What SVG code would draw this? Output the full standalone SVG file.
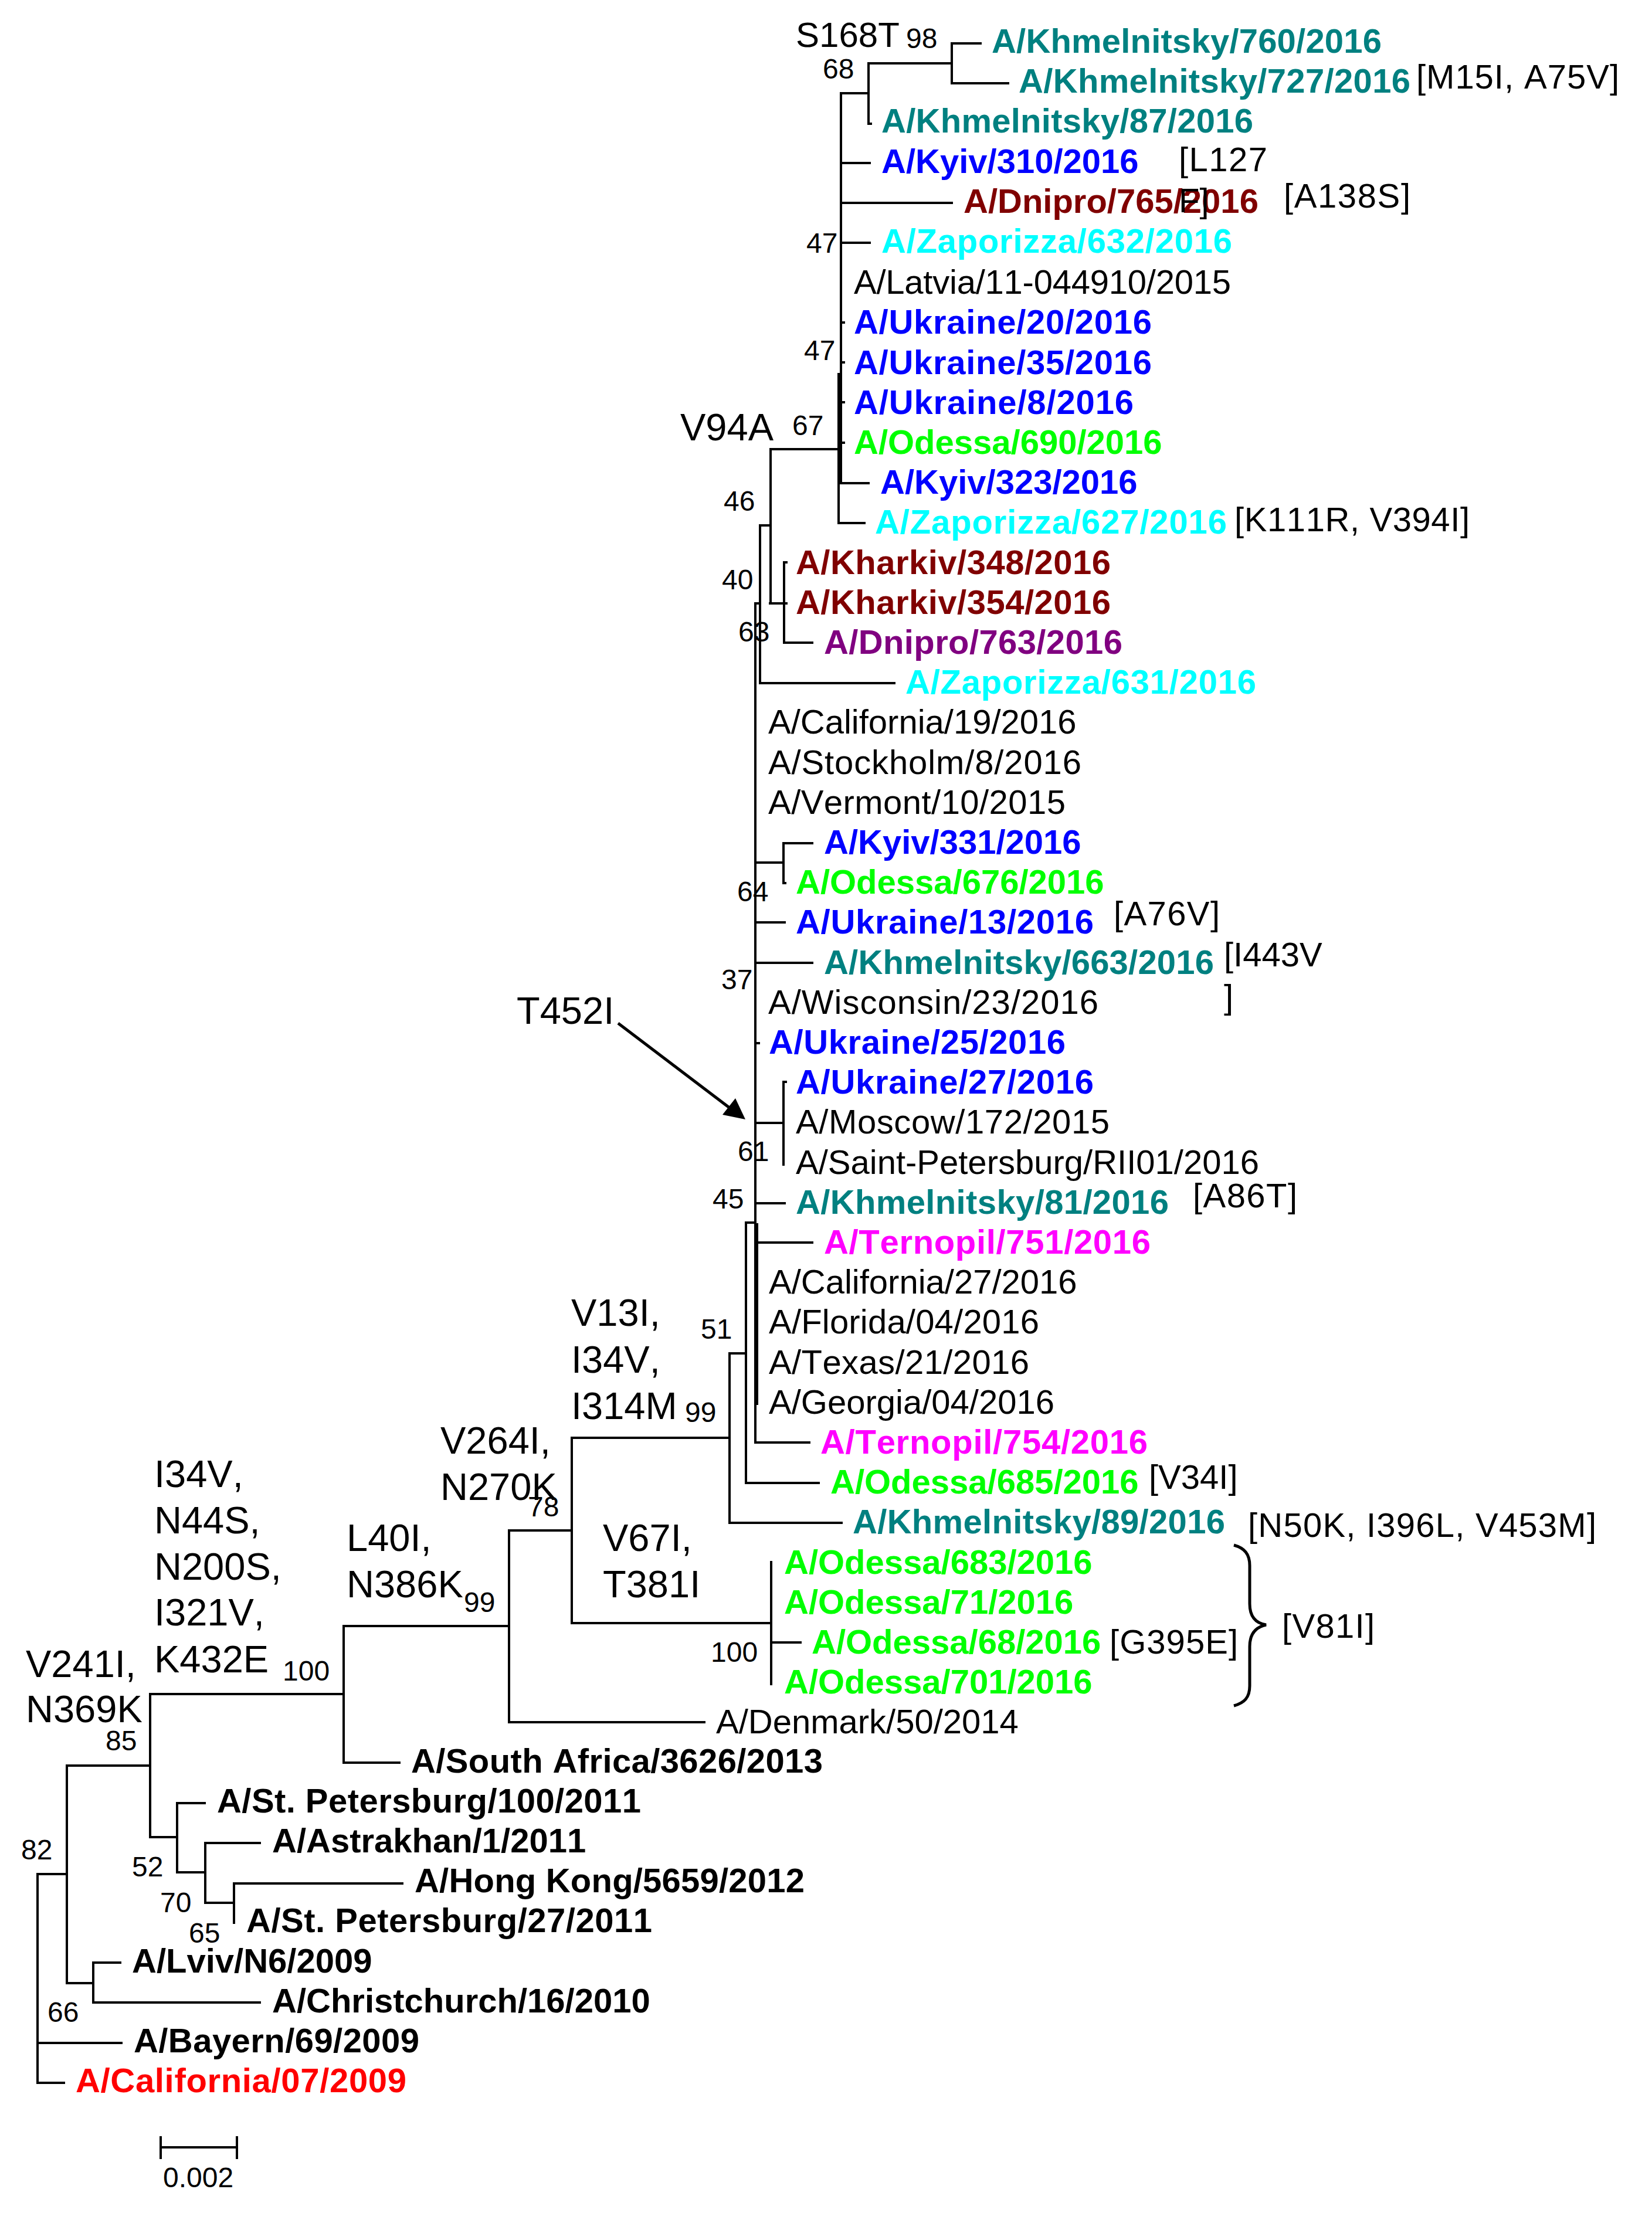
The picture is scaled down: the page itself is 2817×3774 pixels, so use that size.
<svg xmlns="http://www.w3.org/2000/svg" width="2817" height="3774" viewBox="0 0 2817 3774">
<style>
text{font-family:"Liberation Sans",Arial,sans-serif;font-size:58px;fill:#000;font-kerning:none}
.b{font-weight:bold}
.teal{fill:#008080}.blue{fill:#0000ff}.mar{fill:#800000}.cyan{fill:#00ffff}.lime{fill:#00ff00}.pur{fill:#800080}.mag{fill:#ff00ff}.red{fill:#ff0000}
.n{font-size:48px}
.m{font-size:65px}
#connectors path{fill:none;stroke:#000;stroke-width:4;stroke-linecap:square}
#connectors path.arrow{stroke-width:5;stroke-linecap:butt}
#brace path{fill:none;stroke:#000;stroke-width:5}
</style>
<rect width="2817" height="3774" fill="#fff"/>
<g id="connectors">
<path d="M1672 74H1623V142H1719M1481 211V108H1623M1485 211H1481M1434 824V159H1481M1434 278H1483M1434 346H1623M1434 414H1483M1434 550H1439M1434 618H1439M1434 686H1439M1434 755H1439M1434 824H1481"/>
<path d="M1474 892H1430V638M1430 766H1314V1029M1313 896H1296M1341 1029H1313M1341 959H1337V1096H1385"/>
<path d="M1288 1029H1296M1296 896V1165H1525"/>
<path d="M1288 1029V2085M1290 1471H1336M1385 1438H1336V1506H1339M1288 1573H1338M1288 1642H1385M1288 1779H1294M1288 1915H1336M1340 1845H1336V1986M1288 2052H1338"/>
<path d="M1288 2085H1272V2529H1396M1288 2085V2460H1380M1291 2088V2394M1291 2119H1385M1272 2308H1244V2597H1435M1244 2452H975V2768H1315"/>
<path d="M1315 2664V2872M1315 2801H1365"/>
<path d="M975 2610H868V2937H1201M868 2773H586V3006H681M586 2889H256V3133M114 3011H256M256 3133H302M349 3075H302V3193H350M443 3143H350V3245H399M686 3212H399V3279"/>
<path d="M114 3011V3382H159M205 3347H159V3415H443M114 3196H64V3552H109M64 3484H207"/>
<path class="arrow" d="M1054 1745L1245 1890"/>
</g>
<polygon id="arrowhead" points="1271,1909 1254,1873 1232,1901" fill="#000"/>
<g id="scale-bar"><path d="M274 3643V3682M404 3643V3682M274 3662H404" fill="none" stroke="#000" stroke-width="4"/><text class="n" x="278" y="3730">0.002</text></g>
<g id="brace"><path d="M2104 2635C2122 2640 2131 2650 2131 2670V2735C2131 2755 2140 2768 2159 2771C2140 2775 2131 2788 2131 2808V2875C2131 2895 2122 2904 2104 2909"/></g>
<g id="t0"><text class="b teal" x="1691" y="90" textLength="665">A/Khmelnitsky/760/2016</text></g>
<g id="t1"><text class="b teal" x="1737" y="158" textLength="668">A/Khmelnitsky/727/2016</text></g>
<g id="t2"><text class="b teal" x="1503" y="226" textLength="634">A/Khmelnitsky/87/2016</text></g>
<g id="t3"><text class="b blue" x="1503" y="295">A/Kyiv/310/2016</text></g>
<g id="t4"><text class="b mar" x="1643" y="363">A/Dnipro/765/2016</text></g>
<g id="t5"><text class="b cyan" x="1503" y="431" textLength="598">A/Zaporizza/632/2016</text></g>
<g id="t6"><text x="1456" y="501" textLength="643">A/Latvia/11-044910/2015</text></g>
<g id="t7"><text class="b blue" x="1456" y="569" textLength="508">A/Ukraine/20/2016</text></g>
<g id="t8"><text class="b blue" x="1456" y="638" textLength="508">A/Ukraine/35/2016</text></g>
<g id="t9"><text class="b blue" x="1456" y="706" textLength="477">A/Ukraine/8/2016</text></g>
<g id="t10"><text class="b lime" x="1456" y="774">A/Odessa/690/2016</text></g>
<g id="t11"><text class="b blue" x="1501" y="842">A/Kyiv/323/2016</text></g>
<g id="t12"><text class="b cyan" x="1492" y="910" textLength="600">A/Zaporizza/627/2016</text></g>
<g id="t13"><text class="b mar" x="1357" y="979" textLength="537">A/Kharkiv/348/2016</text></g>
<g id="t14"><text class="b mar" x="1357" y="1047" textLength="537">A/Kharkiv/354/2016</text></g>
<g id="t15"><text class="b pur" x="1405" y="1115" textLength="509">A/Dnipro/763/2016</text></g>
<g id="t16"><text class="b cyan" x="1544" y="1183" textLength="598">A/Zaporizza/631/2016</text></g>
<g id="t17"><text x="1310" y="1251">A/California/19/2016</text></g>
<g id="t18"><text x="1310" y="1320" textLength="534">A/Stockholm/8/2016</text></g>
<g id="t19"><text x="1310" y="1388" textLength="507">A/Vermont/10/2015</text></g>
<g id="t20"><text class="b blue" x="1405" y="1456">A/Kyiv/331/2016</text></g>
<g id="t21"><text class="b lime" x="1357" y="1524">A/Odessa/676/2016</text></g>
<g id="t22"><text class="b blue" x="1357" y="1592" textLength="508">A/Ukraine/13/2016</text></g>
<g id="t23"><text class="b teal" x="1405" y="1661" textLength="665">A/Khmelnitsky/663/2016</text></g>
<g id="t24"><text x="1310" y="1729" textLength="563">A/Wisconsin/23/2016</text></g>
<g id="t25"><text class="b blue" x="1311" y="1797" textLength="506">A/Ukraine/25/2016</text></g>
<g id="t26"><text class="b blue" x="1357" y="1865" textLength="508">A/Ukraine/27/2016</text></g>
<g id="t27"><text x="1357" y="1933" textLength="535">A/Moscow/172/2015</text></g>
<g id="t28"><text x="1357" y="2002">A/Saint-Petersburg/RII01/2016</text></g>
<g id="t29"><text class="b teal" x="1357" y="2070" textLength="636">A/Khmelnitsky/81/2016</text></g>
<g id="t30"><text class="b mag" x="1405" y="2138" textLength="557">A/Ternopil/751/2016</text></g>
<g id="t31"><text x="1311" y="2206">A/California/27/2016</text></g>
<g id="t32"><text x="1311" y="2274" textLength="461">A/Florida/04/2016</text></g>
<g id="t33"><text x="1311" y="2343" textLength="444">A/Texas/21/2016</text></g>
<g id="t34"><text x="1311" y="2411">A/Georgia/04/2016</text></g>
<g id="t35"><text class="b mag" x="1399" y="2479" textLength="558">A/Ternopil/754/2016</text></g>
<g id="t36"><text class="b lime" x="1416" y="2547">A/Odessa/685/2016</text></g>
<g id="t37"><text class="b teal" x="1454" y="2615" textLength="635">A/Khmelnitsky/89/2016</text></g>
<g id="t38"><text class="b lime" x="1337" y="2684">A/Odessa/683/2016</text></g>
<g id="t39"><text class="b lime" x="1337" y="2752">A/Odessa/71/2016</text></g>
<g id="t40"><text class="b lime" x="1384" y="2820">A/Odessa/68/2016</text></g>
<g id="t41"><text class="b lime" x="1337" y="2888">A/Odessa/701/2016</text></g>
<g id="t42"><text x="1221" y="2956">A/Denmark/50/2014</text></g>
<g id="t43"><text class="b" x="701" y="3023" textLength="702">A/South Africa/3626/2013</text></g>
<g id="t44"><text class="b" x="370" y="3091" textLength="723">A/St. Petersburg/100/2011</text></g>
<g id="t45"><text class="b" x="464" y="3159">A/Astrakhan/1/2011</text></g>
<g id="t46"><text class="b" x="707" y="3227" textLength="665">A/Hong Kong/5659/2012</text></g>
<g id="t47"><text class="b" x="420" y="3295" textLength="692">A/St. Petersburg/27/2011</text></g>
<g id="t48"><text class="b" x="225" y="3364">A/Lviv/N6/2009</text></g>
<g id="t49"><text class="b" x="464" y="3432">A/Christchurch/16/2010</text></g>
<g id="t50"><text class="b" x="228" y="3500" textLength="487">A/Bayern/69/2009</text></g>
<g id="t51"><text class="b red" x="129" y="3568" textLength="564">A/California/07/2009</text></g>
<g id="site-notes">
<text x="2415" y="151" textLength="346">[M15I, A75V]</text>
<text x="2010" y="292" textLength="151">[L127</text>
<text x="2010" y="362">F]</text>
<text x="2189" y="354" textLength="216">[A138S]</text>
<text x="2105" y="906" textLength="401">[K111R, V394I]</text>
<text x="1899" y="1578" textLength="181">[A76V]</text>
<text x="2087" y="1648">[I443V</text>
<text x="2087" y="1720">]</text>
<text x="2034" y="2059" textLength="178">[A86T]</text>
<text x="1959" y="2539">[V34I]</text>
<text x="2128" y="2621" textLength="594">[N50K, I396L, V453M]</text>
<text x="1892" y="2820" textLength="219">[G395E]</text>
<text x="2186" y="2793" textLength="158">[V81I]</text>
</g>
<g id="mutations">
<text x="1357" y="80" style="font-size:60px">S168T</text>
<text class="m" x="1160" y="751">V94A</text>
<text class="m" x="881" y="1746">T452I</text>
<text class="m" x="974" y="2261">V13I,</text>
<text class="m" x="974" y="2341">I34V,</text>
<text class="m" x="974" y="2420">I314M</text>
<text class="m" x="751" y="2479">V264I,</text>
<text class="m" x="751" y="2558">N270K</text>
<text class="m" x="1028" y="2645">V67I,</text>
<text class="m" x="1028" y="2724">T381I</text>
<text class="m" x="591" y="2645">L40I,</text>
<text class="m" x="591" y="2724">N386K</text>
<text class="m" x="263" y="2536">I34V,</text>
<text class="m" x="263" y="2615">N44S,</text>
<text class="m" x="263" y="2694">N200S,</text>
<text class="m" x="263" y="2772">I321V,</text>
<text class="m" x="263" y="2852">K432E</text>
<text class="m" x="44" y="2860">V241I,</text>
<text class="m" x="44" y="2937">N369K</text>
</g>
<g id="bootstrap">
<text class="n" x="1545" y="82">98</text>
<text class="n" x="1403" y="134">68</text>
<text class="n" x="1375" y="431">47</text>
<text class="n" x="1371" y="614">47</text>
<text class="n" x="1351" y="742">67</text>
<text class="n" x="1234" y="871">46</text>
<text class="n" x="1231" y="1005">40</text>
<text class="n" x="1259" y="1094">63</text>
<text class="n" x="1257" y="1537">64</text>
<text class="n" x="1230" y="1687">37</text>
<text class="n" x="1258" y="1980">61</text>
<text class="n" x="1215" y="2061">45</text>
<text class="n" x="1195" y="2283">51</text>
<text class="n" x="1168" y="2425">99</text>
<text class="n" x="900" y="2586">78</text>
<text class="n" x="791" y="2749">99</text>
<text class="n" x="1212" y="2834">100</text>
<text class="n" x="482" y="2866">100</text>
<text class="n" x="180" y="2985">85</text>
<text class="n" x="36" y="3171">82</text>
<text class="n" x="225" y="3200">52</text>
<text class="n" x="273" y="3261">70</text>
<text class="n" x="322" y="3313">65</text>
<text class="n" x="81" y="3448">66</text>
</g>
</svg>
